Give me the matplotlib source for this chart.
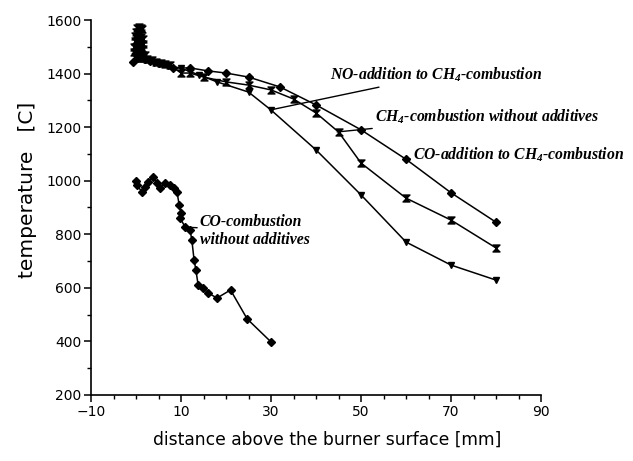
import matplotlib
matplotlib.use("Agg")
import matplotlib.pyplot as plt
from matplotlib.path import Path
from matplotlib.ticker import MultipleLocator

plt.rcParams["mathtext.fontset"] = "custom"
plt.rcParams["mathtext.rm"] = "Liberation Serif:italic:bold"
plt.rcParams["mathtext.it"] = "Liberation Serif:italic:bold"
plt.rcParams["mathtext.bf"] = "Liberation Serif:italic:bold"

# distance above burner [mm] / temperature [C]
ch4_x = [0.2, 0.6, 1.0, 1.4, 0.0, 0.5, 1.2, -0.2, 0.4, 1.0, 1.6, -0.3, 0.3, 0.9, 1.5,
         -0.4, 0.2, 0.8, 1.6, -0.5, 0.3, 1.0, 2.0, -0.3, 0.6, 1.5, 2.5, 3.5, 4.5, 5.5,
         6.5, 7.5, 10, 12, 15, 20, 25, 30, 35, 40, 45, 50, 60, 70, 80]
ch4_T = [1570, 1575, 1572, 1565, 1555, 1555, 1550, 1540, 1538, 1535, 1530, 1520, 1518, 1515, 1510,
         1500, 1498, 1495, 1490, 1480, 1478, 1475, 1470, 1462, 1460, 1458, 1455, 1450, 1445, 1440,
         1436, 1432, 1402, 1402, 1387, 1369, 1357, 1339, 1305, 1253, 1182, 1066, 935, 853, 749]

co_add_x = [-0.6, 0.0, 1.0, 2.0, 3.0, 5.0, 8.2, 12, 16, 20, 25, 32, 40, 50, 60, 70, 80]
co_add_T = [1443, 1477, 1462, 1455, 1447, 1438, 1421, 1421, 1410, 1402, 1387, 1350, 1283, 1190,
            1080, 955, 845]

no_add_x = [0.5, 2.0, 4.0, 7.0, 10, 14, 18, 25, 30, 40, 50, 60, 70, 80]
no_add_T = [1455, 1450, 1440, 1430, 1420, 1395, 1369, 1331, 1264, 1115, 947, 771, 685, 629]

co_x = [0.0, 0.2, 1.3, 2.0, 2.7, 3.8, 4.7, 5.3, 6.4, 7.6, 8.4, 9.1, 9.6, 10.0, 9.8, 10.9, 12.0,
        12.4, 12.9, 13.3, 13.8, 14.9, 16.0, 18.0, 21.0, 24.7, 30.0]
co_T = [1000, 985, 958, 976, 995, 1014, 991, 973, 991, 984, 973, 958, 909, 879, 861, 827, 816,
        779, 704, 667, 611, 600, 581, 562, 592, 484, 398]

label_no = "NO-addition to CH$_4$-combustion"
label_ch4 = "CH$_4$-combustion without additives"
label_coadd = "CO-addition to CH$_4$-combustion"
label_co = "CO-combustion\nwithout additives"

hourglass = Path([(-1, 1), (1, 1), (-1, -1), (1, -1), (-1, 1)],
                 [Path.MOVETO, Path.LINETO, Path.LINETO, Path.LINETO, Path.CLOSEPOLY])

fig = plt.figure(figsize=(6.33, 4.61), dpi=100)
ax = fig.add_axes([0.1438, 0.1432, 0.7109, 0.8134])

kw = dict(color="black", lw=1.1, markerfacecolor="black", markeredgecolor="black")
ax.plot(ch4_x, ch4_T, marker=hourglass, ms=5, **kw)
ax.plot(co_add_x, co_add_T, marker="D", ms=3.8, **kw)
ax.plot(no_add_x, no_add_T, marker="v", ms=5, **kw)
ax.plot(co_x, co_T, marker="D", ms=3.8, **kw)

ax.set_xlim(-10, 90)
ax.set_ylim(200, 1600)
ax.xaxis.set_minor_locator(MultipleLocator(5))
ax.yaxis.set_major_locator(MultipleLocator(200))
ax.yaxis.set_minor_locator(MultipleLocator(100))
ax.set_xticks([-10, 10, 30, 50, 70, 90])
ax.set_xticklabels(["\u221210", "10", "30", "50", "70", "90"])
for s in ("top", "right"):
    ax.spines[s].set_visible(False)
for s in ("left", "bottom"):
    ax.spines[s].set_linewidth(1.2)
ax.tick_params(which="major", direction="out", length=5, width=1.1, labelsize=10, pad=2)
ax.tick_params(which="minor", direction="out", length=3, width=1.0)

fig.text(327 / 633, 1 - 440 / 461, "distance above the burner surface [mm]",
         fontsize=12.3, ha="center", va="center")
fig.text(28 / 633, 1 - 190 / 461, "temperature   [C]", fontsize=14.5,
         rotation=90, ha="center", va="center")

tkw = dict(fontsize=11.3, family="Liberation Serif", style="italic", weight="bold",
           va="center", ha="left")
line = dict(arrowstyle="-", color="black", lw=1.0, shrinkA=0, shrinkB=0)
ax.annotate(label_no, xy=(29.8, 1264), xytext=(43.1, 1394), arrowprops=line, **tkw)
ax.annotate(label_ch4, xy=(44.7, 1182), xytext=(53.1, 1238), arrowprops=line, **tkw)
ax.annotate(label_coadd, xy=(59.7, 1080), xytext=(61.6, 1096), arrowprops=line, **tkw)
ax.annotate(label_co, xy=(10.9, 827), xytext=(14.2, 812), arrowprops=line,
            linespacing=1.15, **tkw)

fig.savefig("out.png", dpi=100)
